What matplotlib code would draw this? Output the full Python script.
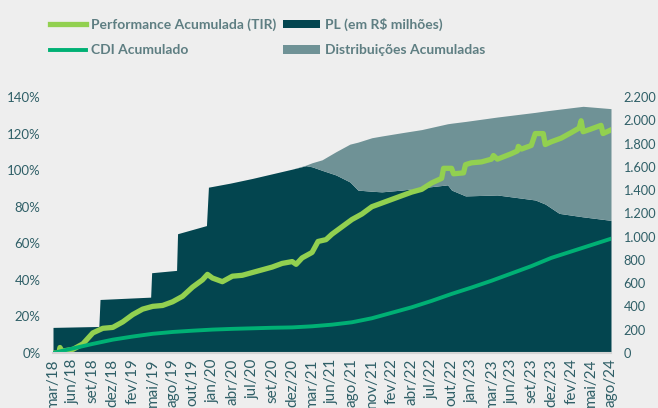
import matplotlib.pyplot as plt
import numpy as np

## data
# x positions are in tick-label units (0 = mar/18, 28 = ago/24)
tick_labels = ['mar/18', 'jun/18', 'set/18', 'dez/18', 'fev/19', 'mai/19', 'ago/19',
               'out/19', 'jan/20', 'abr/20', 'jul/20', 'set/20', 'dez/20', 'mar/21',
               'jun/21', 'ago/21', 'nov/21', 'fev/22', 'abr/22', 'jul/22', 'out/22',
               'jan/23', 'mar/23', 'jun/23', 'set/23', 'dez/23', 'fev/24', 'mai/24',
               'ago/24']

# PL (R$ milhões) and distribuições acumuladas, right axis
pl_x = [0, 2.3, 2.36, 4.9, 4.95, 6.2, 6.25, 7.7, 7.8, 8.9, 10, 11, 12, 12.7, 13.0,
        13.5, 14.2, 14.9, 15.3, 16.0, 16.5, 17.5, 18.5, 19.8, 20.0, 20.7, 22.3,
        24.2, 24.7, 25.4, 26.6, 28]
pl = [220, 228, 460, 480, 690, 710, 1025, 1095, 1425, 1460, 1500, 1540, 1580, 1610,
      1600, 1570, 1530, 1470, 1400, 1390, 1385, 1400, 1420, 1445, 1400, 1350, 1358,
      1315, 1280, 1200, 1170, 1140]
dist = [0, 0, 0, 0, 0, 0, 0, 0, 0, 0, 0, 0, 0, 5, 35, 90, 200, 325, 412, 460, 480,
        493, 500, 525, 575, 640, 670, 753, 800, 895, 950, 960]

# performance acumulada (TIR), left axis in %
tir_x = [0, 0.3, 0.35, 0.45, 1.0, 1.5, 2.0, 2.5, 3.0, 3.5, 4.0, 4.5, 5.0, 5.5, 6.0,
         6.5, 7.0, 7.5, 7.75, 8.0, 8.5, 9.0, 9.5, 10.0, 10.5, 11.0, 11.5, 12.0, 12.2,
         12.5, 13.0, 13.3, 13.7, 14.0, 14.5, 15.0, 15.5, 16.0, 16.5, 17.0, 17.5,
         18.0, 18.5, 19.0, 19.5, 19.6, 20.0, 20.1, 20.6, 20.7, 21.0, 21.5, 22.0,
         22.1, 22.3, 23.0, 23.3, 23.35, 23.5, 24.0, 24.2, 24.6, 24.7, 25.0, 25.5,
         26.0, 26.4, 26.5, 26.6, 27.0, 27.5, 27.6, 28.0]
tir = [0, 0, 3, 1, 2, 5, 11, 13.5, 14, 17, 21, 24, 25.5, 26, 28, 31, 36, 40, 43, 41,
       39, 42, 42.5, 44, 45.5, 47, 49, 50, 48.5, 52, 55, 61, 62, 65, 69, 73, 76, 80,
       82, 84, 86, 88, 89.5, 93, 95.5, 101, 101, 98, 98.5, 103, 104, 104.5, 106,
       108, 106, 109, 110.5, 113, 111.5, 113.5, 120, 120, 114, 115.5, 117.5, 120.5,
       123, 127, 121, 122.5, 124.5, 120, 122]

# CDI acumulado, left axis in %
cdi_x = list(range(29))
cdi = [0, 2.5, 5, 7.3, 9, 10.5, 11.5, 12.2, 12.8, 13.2, 13.5, 13.8, 14, 14.6, 15.5,
       16.8, 19, 22, 25, 28.5, 32.3, 35.8, 39.5, 43.5, 47.5, 52, 55.5, 59, 62.5]

## colors
bg = '#eeeeee'
c_pl = '#03454f'
c_dist = '#6f9296'
c_tir = '#92d050'
c_cdi = '#00b074'
c_txt = '#2f5f67'

plt.rcParams['font.family'] = ['Lato', 'DejaVu Sans']

fig = plt.figure(figsize=(6.58, 4.08), dpi=100, facecolor=bg)
ax = fig.add_axes([53/658, 55/408, 558/658, 256/408])
ax2 = ax.twinx()

## areas on the right axis
total = np.array(pl) + np.array(dist)
ax2.fill_between(pl_x, 0, pl, color=c_pl, lw=0, label='PL (em R$ milhões)')
ax2.fill_between(pl_x, pl, total, color=c_dist, lw=0, label='Distribuições Acumuladas')
ax2.set_ylim(0, 2200)
ax2.set_yticks(range(0, 2201, 200))
ax2.set_yticklabels([f'{v:,}'.replace(',', '.') for v in range(0, 2201, 200)])

## lines on the left axis (drawn above the areas)
ax.set_zorder(ax2.get_zorder() + 1)
ax.patch.set_visible(False)
ax.plot(tir_x, tir, color=c_tir, lw=3.8, solid_joinstyle='round',
        label='Performance Acumulada (TIR)')
ax.plot(cdi_x, cdi, color=c_cdi, lw=2.8, label='CDI Acumulado')
ax.set_ylim(0, 140)
ax.set_yticks(range(0, 141, 20))
ax.set_yticklabels([f'{v}%' for v in range(0, 141, 20)])
ax.set_xlim(0, 28)
ax.set_xticks(range(len(tick_labels)))
ax.set_xticklabels(tick_labels, rotation=90)

## pretty~
for a in (ax, ax2):
    a.set_facecolor(bg)
    a.tick_params(length=0, labelsize=9.5, labelcolor=c_txt)
    for s in a.spines.values():
        s.set_visible(False)
ax.tick_params(axis='y', pad=9)
ax2.tick_params(axis='y', pad=9, labelsize=9.2)
ax.tick_params(axis='x', pad=4, labelsize=11)
ax.spines['bottom'].set_visible(True)
ax.spines['bottom'].set_color('#d4d4d4')
ax.spines['bottom'].set_linewidth(1.5)

h1, l1 = ax.get_legend_handles_labels()
h2, l2 = ax2.get_legend_handles_labels()
leg = fig.legend(h1 + h2, l1 + l2, ncol=2, loc='upper left',
                 bbox_to_anchor=(37/658, 0.987), frameon=False,
                 prop={'weight': 'bold', 'size': 10},
                 handlelength=2.65, handleheight=0.58, handletextpad=0.35,
                 columnspacing=0.5, labelspacing=0.95, labelcolor='#5e7e82')

fig.savefig('out.png', dpi=100, facecolor=bg)
